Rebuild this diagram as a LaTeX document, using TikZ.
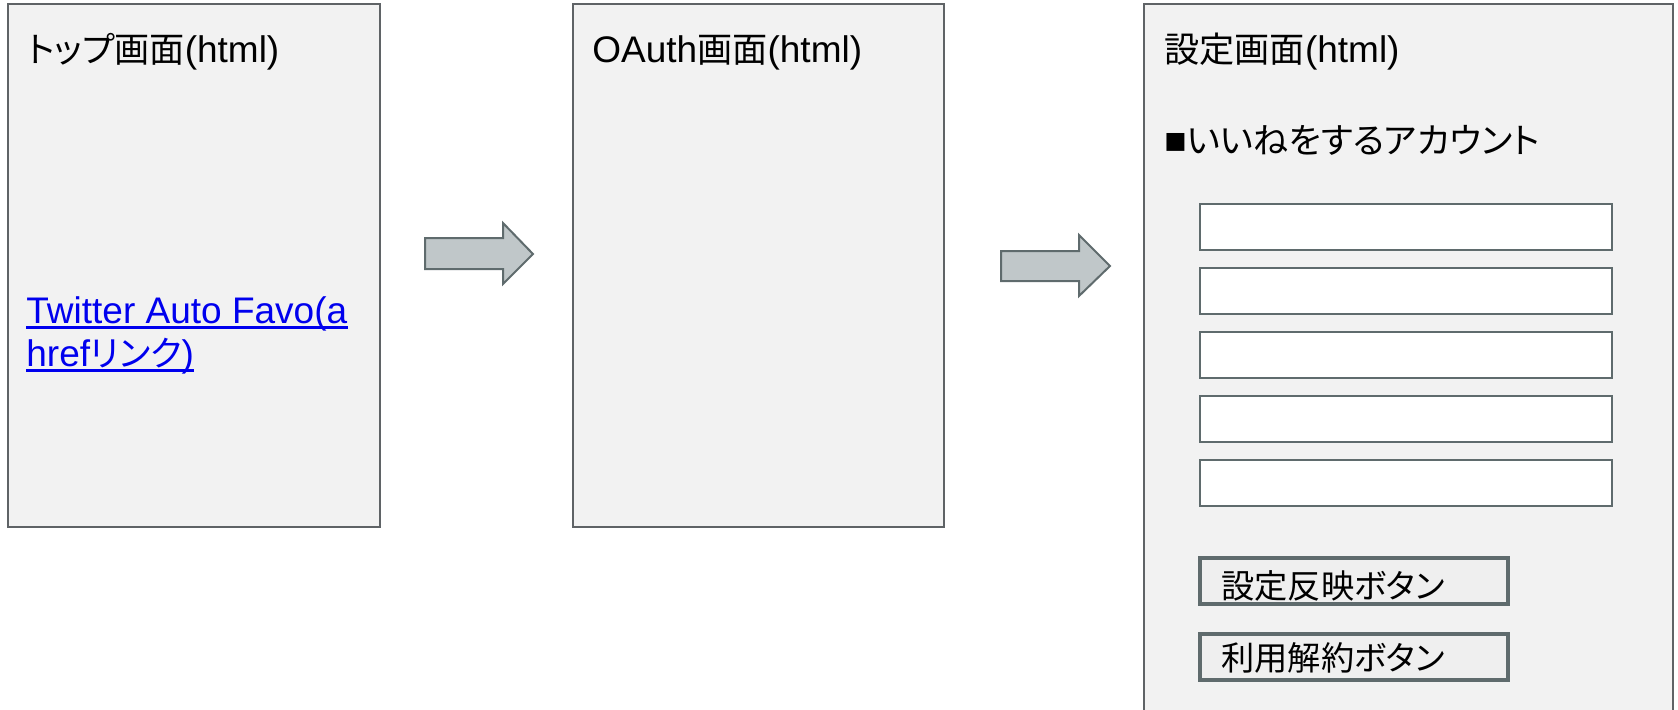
\documentclass[tikz,border=0pt]{standalone}
\usepackage{fontspec}
\setmainfont{Liberation Sans}
\newfontfamily\cjk{Noto Sans CJK JP}[Scale=0.95,RawFeature=+palt]
\usetikzlibrary{fit}
\definecolor{boxfill}{HTML}{F2F2F2}
\definecolor{boxline}{HTML}{5F6366}
\definecolor{arrfill}{HTML}{C0C7C9}
\definecolor{arrline}{HTML}{5F6B6D}
\definecolor{fieldline}{HTML}{5F6B6D}
\definecolor{btnfill}{HTML}{EFEFEF}
\definecolor{linkblue}{HTML}{0000EE}
\tikzset{
  screen/.style={draw=boxline, fill=boxfill, line width=1pt, inner sep=0pt, outer sep=0pt},
  field/.style={draw=fieldline, fill=white, line width=1pt, inner sep=0pt, outer sep=0pt},
  button/.style={draw=fieldline, fill=btnfill, line width=1.8pt, inner sep=0pt, outer sep=0pt},
  blockarrow/.style={draw=arrline, fill=arrfill, line width=1pt, line join=miter},
  title/.style={anchor=base west, inner sep=0pt, font=\fontsize{18.5pt}{21.5pt}\selectfont},
  btntext/.style={anchor=base west, inner sep=0pt, font=\fontsize{17.5pt}{20pt}\selectfont},
  link/.style={anchor=base west, inner sep=0pt, text=linkblue, font=\fontsize{18.5pt}{21.5pt}\selectfont},
  uline/.style={draw=linkblue, line width=1.5pt}
}
\begin{document}
\begin{tikzpicture}[x=0.5pt, y=-0.5pt]
\useasboundingbox (0,0) rectangle (1678,709);
% screens
\node[screen, fit={(8,4) (380,527)}] (top) {};
\node[screen, fit={(573,4) (944,527)}] (oauth) {};
\node[screen, fit={(1144,4) (1673,720)}] (settings) {};
% titles
\node[title] (t1) at (27,62) {{\cjk トップ画面}(html)};
\node[title] (t2) at (592,62) {OAuth{\cjk 画面}(html)};
\node[title] (t3) at (1164,62) {{\cjk 設定画面}(html)};
\node[title] (acc) at (1164,153) {■{\cjk いいねをするアカウント}};
% link
\node[link] (l1) at (26,323) {Twitter Auto Favo(a};
\node[link] (l2) at (26,366) {href{\cjk リンク})};
\draw[uline] ([yshift=-2.2pt]l1.base west) -- ([yshift=-2.2pt]l1.base east);
\draw[uline] ([yshift=-2.2pt]l2.base west) -- ([yshift=-2.2pt]l2.base east);
% arrows
\draw[blockarrow] (425,238) -- (503,238) -- (503,223) -- (533,254) -- (503,284) -- (503,269) -- (425,269) -- cycle;
\draw[blockarrow] (1001,251) -- (1079,251) -- (1079,235) -- (1110,266) -- (1079,296) -- (1079,281) -- (1001,281) -- cycle;
% fields
\node[field, fit={(1200,204) (1612,250)}] (f1) {};
\node[field, fit={(1200,268) (1612,314)}] (f2) {};
\node[field, fit={(1200,332) (1612,378)}] (f3) {};
\node[field, fit={(1200,396) (1612,442)}] (f4) {};
\node[field, fit={(1200,460) (1612,506)}] (f5) {};
% buttons
\node[button, fit={(1200,558) (1508,604)}] (b1) {};
\node[button, fit={(1200,634) (1508,680)}] (b2) {};
\node[btntext] (b1t) at (1221,598) {\cjk 設定反映ボタン};
\node[btntext] (b2t) at (1221,670) {\cjk 利用解約ボタン};
\end{tikzpicture}
\end{document}
